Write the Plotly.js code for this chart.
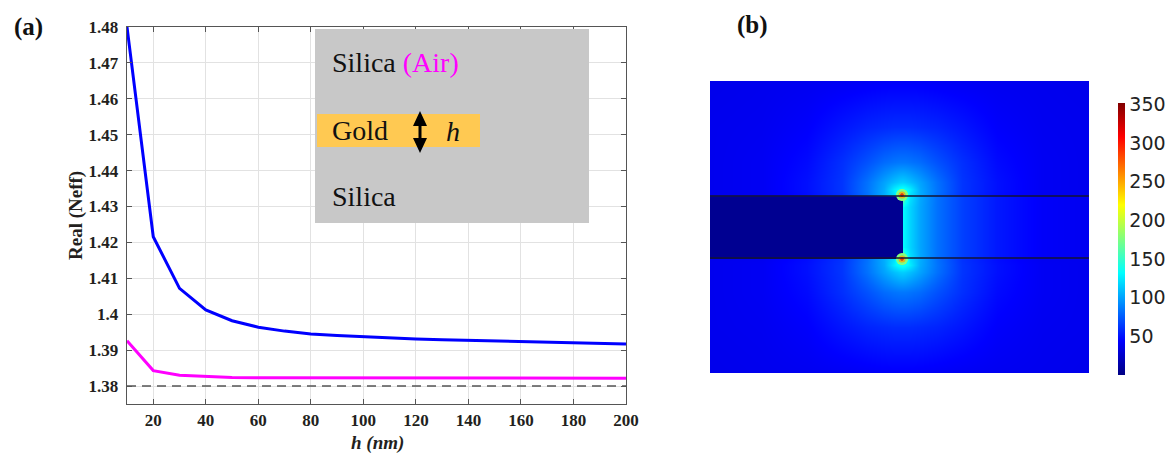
<!DOCTYPE html>
<html><head><meta charset="utf-8">
<script src="https://cdn.plot.ly/plotly-3.0.1.min.js"></script>
<style>html,body{margin:0;padding:0;background:#fff}#chart{width:1174px;height:454px}</style>
</head><body><div id="chart"></div>
<script>
// ---------- DATA: panel (a) ----------
const goldThickness = [10,20,30,40,50,60,70,80,90,100,110,120,130,140,150,160,170,180,190,200];
const neffSilicaCover = [1.4800,1.4216,1.4072,1.4012,1.3982,1.3964,1.3953,1.3945,1.3941,1.3937,1.3934,1.3931,1.3929,1.3927,1.3925,1.3923,1.3922,1.3920,1.3919,1.3917];
const neffAirCover = [1.3926,1.3843,1.3830,1.3826,1.3824,1.3823,1.3823,1.3822,1.3822,1.3822,1.3822,1.3822,1.3822,1.3822,1.3822,1.3822,1.3822,1.3822,1.3822,1.3822];
const referenceLevel = [1.38, 1.38];
const referenceX = [10, 200];
const xTicks = [20,40,60,80,100,120,140,160,180,200];
const yTicks = [1.38,1.39,1.40,1.41,1.42,1.43,1.44,1.45,1.46,1.47,1.48];

// ---------- DATA: panel (b) field map ----------
const fieldX = [-192,-140,-95,-60,-35,-18,-8,-3,-0.5,0.5,3,8,18,35,60,95,140,187];
const fieldY = [-146,-100,-65,-45,-38,-32,-30.5,-20,0,20,30.5,32,38,45,65,100,146];
const rowFar    = [37,38,39,40,41,42,42,42,42,42,42,42,42,41,40,39,38,37];
const rowMid    = [38,39,43,51,56,58,59,59,59,59,59,59,58,56,51,43,39,38];
const rowNear   = [38,40,47,60,72,81,84,85,85,85,85,84,81,72,60,47,40,38];
const rowClose  = [38,40,49,62,83,100,110,114,115,115,114,110,100,83,62,49,40,38];
const rowGlow   = [38,40,49,62,84,103,126,134,136,136,134,126,103,84,62,49,40,38];
const rowEdge   = [38,39,48,61,83,104,122,152,172,172,152,122,104,83,61,48,39,38];
const rowLayerEdge = [5,5,5,5,5,5,5,5,5,172,147,122,102,83,66,52,42,39];
const rowLayer  = [5,5,5,5,5,5,5,5,5,131,127,117,101,83,66,52,42,39];
const fieldZ = [rowFar,rowMid,rowNear,rowClose,rowGlow,rowEdge,rowLayerEdge,rowLayer,rowLayer,rowLayer,rowLayerEdge,rowEdge,rowGlow,rowClose,rowNear,rowMid,rowFar];
const hotspotX = [0, 0];
const hotspotY = [32, -32];
const hotspotLevels = [185, 250, 320];
const colorbarTicks = [50,100,150,200,250,300,350];

// ---------- helpers (pixel -> paper) ----------
const W = 1174, H = 454;
const px = v => v / W;
const py = v => 1 - v / H;

const jet = [[0,'rgb(0,0,131)'],[0.125,'rgb(0,0,255)'],[0.375,'rgb(0,255,255)'],[0.625,'rgb(255,255,0)'],[0.875,'rgb(255,0,0)'],[1,'rgb(128,0,0)']];
const serif = 'Liberation Serif, serif';
const tickFont = {family: serif, size: 17, color: '#231f20', weight: 'bold'};

const traces = [
  {x: referenceX, y: referenceLevel, mode: 'lines', line: {color: '#555555', width: 1.6, dash: '9px,6px'}, hoverinfo: 'skip'},
  {x: goldThickness, y: neffAirCover, mode: 'lines', line: {color: '#ff00ff', width: 3}, hoverinfo: 'skip'},
  {x: goldThickness, y: neffSilicaCover, mode: 'lines', line: {color: '#0000ff', width: 3}, hoverinfo: 'skip'},
  {type: 'heatmap', x: fieldX, y: fieldY, z: fieldZ, xaxis: 'x2', yaxis: 'y2', zsmooth: 'best',
   colorscale: jet, zmin: 0, zmax: 352, hoverinfo: 'skip',
   colorbar: {x: px(1118), xanchor: 'left', xpad: 0, ypad: 0, y: py(239), yanchor: 'middle',
              len: 272 / H, lenmode: 'fraction', thickness: 7, thicknessmode: 'pixels',
              outlinewidth: 0, ticks: '', tickvals: colorbarTicks,
              tickfont: {family: 'DejaVu Sans, sans-serif', size: 19, color: '#222'}}}
];
const ringSizes = [12, 7, 3.5];
const ringFade = ['rgb(20,255,240)', 'rgb(140,255,110)', 'rgb(255,90,0)'];
hotspotLevels.forEach((lv, i) => {
  traces.push({x: hotspotX, y: hotspotY, xaxis: 'x2', yaxis: 'y2', mode: 'markers', hoverinfo: 'skip',
    marker: {size: ringSizes[i], color: hotspotX.map(() => lv), colorscale: jet, cmin: 0, cmax: 352,
             line: {width: 0}, gradient: {type: 'radial', color: ringFade[i]}}});
});

const axisCommon = {showline: true, linecolor: '#555', linewidth: 1.3, mirror: 'ticks', ticks: 'inside',
  ticklen: 5, tickcolor: '#555', showgrid: true, gridcolor: '#e2e2e2', gridwidth: 1, zeroline: false,
  tickfont: tickFont, fixedrange: true};

const arrowPts = [[420,111],[427,126],[421.5,126],[421.5,138],[427,138],[420,153],[413,138],[418.5,138],[418.5,126],[413,126]];
const arrowPath = 'M ' + arrowPts.map(p => px(p[0]) + ',' + py(p[1])).join(' L ') + ' Z';

const ann = (text, x, y, o) => Object.assign({text: text, x: px(x), y: py(y), xref: 'paper', yref: 'paper',
  showarrow: false, xanchor: 'center', yanchor: 'middle', font: {family: serif, size: 28, color: '#111'}}, o || {});

const layout = {
  width: W, height: H, margin: {l: 0, r: 0, t: 0, b: 0}, paper_bgcolor: '#fff', plot_bgcolor: '#fff',
  showlegend: false,
  xaxis: Object.assign({}, axisCommon, {domain: [px(127), px(626)], range: [10, 200], tickvals: xTicks, anchor: 'y'}),
  yaxis: Object.assign({}, axisCommon, {domain: [py(404), py(27)], range: [1.375, 1.48], tickvals: yTicks, anchor: 'x', ticklabelstandoff: 4}),
  xaxis2: {domain: [px(710), px(1089)], range: [-192, 187], visible: false, anchor: 'y2', fixedrange: true},
  yaxis2: {domain: [py(373), py(81)], range: [-146, 146], visible: false, anchor: 'x2', fixedrange: true},
  shapes: [
    {type: 'rect', xref: 'paper', yref: 'paper', x0: px(315), x1: px(589), y0: py(223), y1: py(29), fillcolor: '#c8c8c8', line: {width: 0}, layer: 'above'},
    {type: 'rect', xref: 'paper', yref: 'paper', x0: px(317), x1: px(480), y0: py(147), y1: py(114), fillcolor: '#ffc952', line: {width: 0}, layer: 'above'},
    {type: 'path', xref: 'paper', yref: 'paper', path: arrowPath, fillcolor: '#000', line: {width: 0}, layer: 'above'},
    {type: 'line', xref: 'x2', yref: 'y2', x0: -192, x1: 187, y0: 31, y1: 31, line: {color: '#141433', width: 1.3}, layer: 'above'},
    {type: 'line', xref: 'x2', yref: 'y2', x0: -192, x1: 187, y0: -31, y1: -31, line: {color: '#141433', width: 1.3}, layer: 'above'}
  ],
  annotations: [
    ann('<b>(a)</b>', 29, 27, {font: {family: serif, size: 25, color: '#111'}}),
    ann('<b>(b)</b>', 752, 25, {font: {family: serif, size: 25, color: '#111'}}),
    ann('<b>Real (Neff)</b>', 76, 216, {textangle: -90, font: {family: serif, size: 19, color: '#231f20'}}),
    ann('<b><i>h (nm)</i></b>', 377, 443, {font: {family: serif, size: 19, color: '#231f20'}}),
    ann('Silica <span style="color:#ff00ff">(Air)</span>', 330, 63, {xanchor: 'left'}),
    ann('Gold', 330, 130, {xanchor: 'left'}),
    ann('<i>h</i>', 444, 131, {xanchor: 'left'}),
    ann('Silica', 330, 197, {xanchor: 'left'})
  ]
};
Plotly.newPlot('chart', traces, layout, {staticPlot: true, displayModeBar: false});
</script></body></html>
